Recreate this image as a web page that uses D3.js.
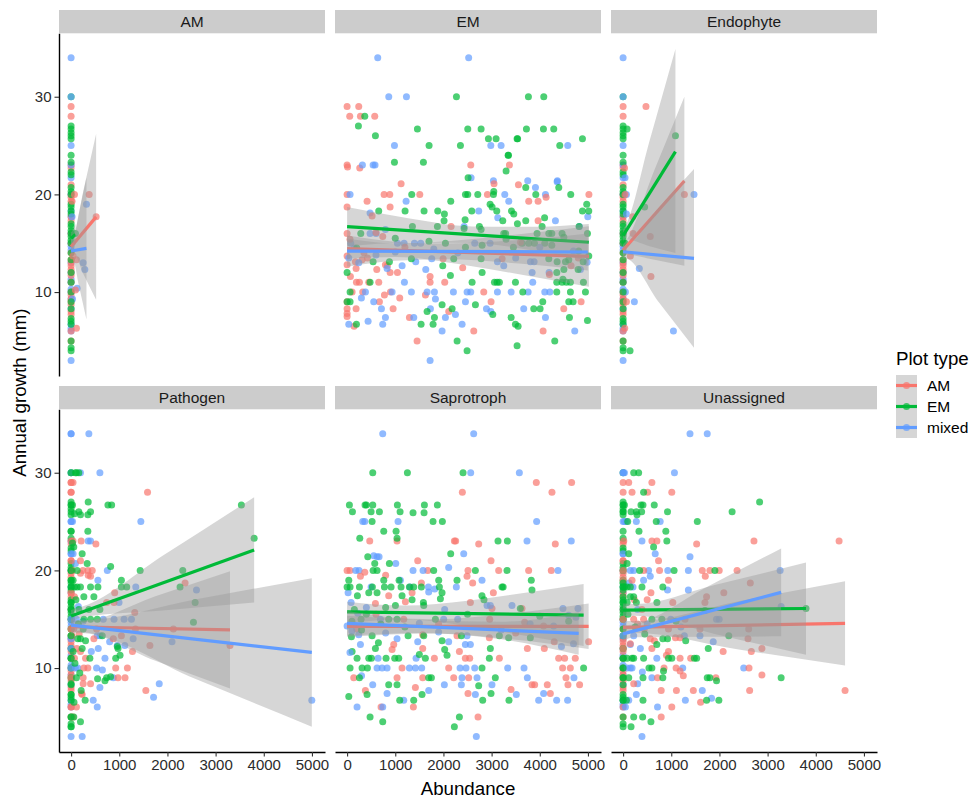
<!DOCTYPE html>
<html><head><meta charset="utf-8">
<script src="https://cdn.jsdelivr.net/npm/d3@7"></script>
<style>body{margin:0;background:#fff} text{font-family:"Liberation Sans",Arial,Helvetica,sans-serif}</style>
</head><body><svg id="chart" width="980" height="808"></svg>
<script>
// ---------- categories / ticks ----------
const facetNames = ["AM","EM","Endophyte","Pathogen","Saprotroph","Unassigned"];
const plotTypes = ["AM","EM","mixed"];
const typeColors = ["#F8766D","#00BA38","#619CFF"];
const xTicks = [0,1000,2000,3000,4000,5000];
const yTicks = [10,20,30];

// ---------- trees with zero abundance (growth, by plot type) ----------
const zeroAM = [29,28,23,22.7,21,20,19.7,19.3,17.7,17.3,16,15,14,13.3,13,12.7,12.3,12,11.7,11,10,9.7,9.3,9,8.7,8,7.7,6,5];
const zeroEM = [30,27,26.7,26.3,26,25.7,24,23.3,22.3,22,20.7,20.3,20,19,18.7,18.3,18,17,16.7,16.3,16,15.7,15.3,15,14,13.3,12,11,10,9,8.3,7.3,7,6.7,5,4.3,4];
const zeroMixed = [34,30,25,23,21.7,20,18.3,17.7,16,15,14.7,14.3,13,12,11.3,11,10.3,10,9.3,8.3,6.7,6.3,6,3];
const zeroMixedUn = [30,25,21.7,20,18.3,17.7,16,15,14.7,14.3,13,12,11.3,11,10.3,10,9.3,8.3,6.7,6.3,6];

// ---------- points [abundance, growth] ----------
const amAM = [[70,20],[375,20],[520,17.7],[111,13.3],[111,6.3],[40,13.7],[90,10.2],[20,19.3]];
const amEM = [[90,16]];
const amMix = [[319,19],[250,13],[285,12.3],[125,10.4],[30,9.3],[20,17.7]];

const emAM = [[0,29],[242,29],[55,28],[277,28],[574,28],[0,23],[10,22.8],[263,22.7],[2567,23],[3370,23],[1121,21.1],[3557,21],[0,20],[768,20],[886,20],[1509,20],[2913,20],[5020,20],[415,19.3],[3771,19.3],[3965,19.3],[4131,19.7],[0,18.7],[893,18.7],[519,17.8],[3965,17.3],[0,16],[740,15.7],[2159,16.7],[0,13.7],[173,13.1],[311,13.3],[422,13.5],[796,12.8],[1993,13.4],[3218,13.4],[0,12.8],[187,12.4],[616,12.3],[837,12.7],[893,12],[1045,12],[1723,11.6],[69,11.6],[194,11],[256,11],[450,11],[657,11],[1723,11],[2027,11],[104,10],[325,10],[900,10],[2837,10],[775,9.7],[671,9],[0,9],[1093,9.4],[1626,9.7],[2989,9],[4858,9],[0,8.3],[0,7.8],[187,8.3],[955,8.3],[2110,8],[4498,8.3],[0,7.5],[1294,7.4],[145,6.5],[2630,6],[4069,6],[1453,5],[3050,21.1],[4650,12.7],[4200,11.8],[4800,13.5],[2400,12.5],[1200,14.6],[3600,15.1],[600,16.1],[350,14],[60,15.4]];
const emEM = [[2270,30],[3764,30],[4083,30],[367,28],[235,27],[1460,26.7],[2505,26.7],[2782,26.7],[3723,26.7],[4076,26.7],[4290,26.7],[588,26],[2934,25.7],[3093,25.7],[3529,25.7],[3540,25.7],[4886,25.7],[1702,25],[2353,25],[4415,25],[3343,24],[3350,24],[983,23.3],[1584,23.3],[3301,22.4],[2512,21.7],[3709,20.7],[4394,20.7],[3045,20.3],[1342,20],[2457,20],[2505,20],[2713,20],[3038,20],[3917,20],[4643,20],[2152,19.3],[4975,19],[657,18.3],[1204,18.3],[1598,18.3],[1882,18.3],[2020,18],[2013,17.3],[2450,17.4],[2588,18.3],[2969,19],[3010,18.7],[3107,18.3],[3232,17.3],[3412,18.3],[3460,18],[3536,17],[3709,17.3],[4886,18.3],[5017,18.3],[284,16],[1356,16.7],[1875,16.7],[2747,16.7],[2782,16.4],[2429,16.5],[3252,16],[3290,16],[3944,16],[4048,16.7],[4187,16],[4250,16],[4463,16],[4816,16.7],[4990,16],[2041,15],[2457,14.6],[2803,14.8],[3453,14.6],[3633,15],[3771,15],[3890,15],[4104,15],[4250,14.8],[4809,14.2],[540,13.1],[879,13.1],[1335,13.4],[2214,13.4],[2782,13.4],[4187,13.4],[4360,13.1],[4533,13.1],[4602,13.3],[4796,12.3],[4900,13.1],[5017,13.7],[1986,12.7],[4353,12],[4500,12.3],[0,12],[2145,11.7],[2803,12],[477,11],[2595,11],[3059,11],[3114,11],[3162,11],[3495,11],[4353,11],[4463,11],[4553,11],[4636,11],[4906,11],[4480,11.3],[62,10],[3647,10],[4353,10],[4636,10],[4948,10],[0,9],[62,9],[2664,8.7],[4062,9],[4602,9],[4692,9],[1972,8.7],[2180,8.3],[1661,8],[3024,7.7],[3875,8.3],[4007,8.3],[1813,7.4],[1536,6.7],[1785,6.7],[194,6.7],[3405,7.4],[3495,6.7],[3550,6.5],[4616,7.4],[4990,7.1],[2284,5],[3529,4.5],[4311,5],[2491,4],[1000,15.5],[200,14.5],[1700,15.2],[3300,15.4],[4500,15.6],[4100,17.6]];
const emMix = [[636,34],[2524,34],[865,30],[1232,30],[983,25],[2983,25],[3197,25],[4581,25],[318,23],[540,23],[580,23],[2574,21.7],[3038,21.4],[3750,21.4],[4366,21.4],[4360,21.3],[3910,20.7],[62,20],[3273,20],[4118,20],[1225,19.3],[3356,19.3],[477,18.1],[2733,18.3],[3128,17.6],[4325,17.3],[4997,17.7],[477,16],[602,16],[796,16.4],[2429,16.7],[4823,16.7],[76,15],[1045,15],[1183,15],[1398,15],[1529,15],[2650,15],[2969,15],[35,13.5],[242,13],[830,12.4],[1425,13.1],[1757,13.4],[3121,13.1],[3252,12.7],[3806,13.1],[3882,13.1],[4844,12.3],[4983,13.05],[1142,12.7],[1633,12.3],[3841,12],[4194,12],[1190,11],[3854,11],[381,10],[934,10],[1335,10],[1661,10],[1813,10],[2207,10],[2491,10],[2567,10],[3121,10],[3405,10],[3758,10],[4104,10],[4208,10],[297,9.4],[553,9],[1834,9.3],[2457,9],[713,8.3],[1730,8.3],[2249,7.7],[2893,8.3],[2983,8],[3667,8.3],[1384,7.4],[2041,7.4],[2387,6.7],[35,6.7],[436,7],[740,6.7],[796,7.4],[4118,7.4],[1972,6],[4726,6],[1723,3],[150,14.5],[1800,14.4],[2300,14],[4000,14.6],[4700,14.2],[600,13.8],[3500,13.5],[1000,14.1]];

const endoAM = [[475,29],[1272,20],[200,17.7],[206,16],[564,15.7],[151,13.7],[578,11.6],[69,9],[34,6.3],[40,20],[30,22.7]];
const endoEM = [[83,26.7],[1087,26],[447,18.7],[144,4],[40,15]];
const endoMix = [[1472,20],[337,12.4],[48,10],[234,9],[1045,6],[69,20],[69,18],[40,21.7]];

const pathAM = [[0,29],[40,29],[0,28],[1587,28],[0,23],[40,23],[209,23],[515,22.7],[0,21],[195,21],[28,20],[244,20],[348,20],[439,20],[195,19.7],[404,19.4],[355,19.5],[2366,18.7],[0,17.7],[905,17.7],[70,17.3],[738,16.7],[891,16.7],[1322,15.7],[0,14],[56,14],[529,14],[1336,14],[2123,14],[1044,13.3],[167,13.5],[473,13],[877,13],[1636,12.3],[3299,12.3],[1274,11.7],[195,11.7],[70,11],[265,10],[348,10],[926,10],[1169,10],[0,9],[251,9],[974,9],[1120,9],[251,8.4],[404,8.4],[1552,7.7],[230,7.3],[216,7.4],[0,6],[111,6],[40,5],[20,13.3],[120,12],[300,11]];
const pathEM = [[0,30],[90,30],[111,30],[160,30],[0,26.7],[30,26.7],[765,26.7],[842,26.7],[3535,26.7],[355,27],[70,25.8],[160,26],[195,25.7],[348,25.7],[404,26],[0,24],[348,24],[3800,23.3],[56,22.4],[30,22.8],[230,21.7],[334,20.7],[821,20.4],[0,20],[125,20],[1434,20],[2318,20],[0,19],[42,19],[1044,19],[0,18.3],[70,18.3],[125,18.3],[195,18.3],[404,18.3],[557,18.3],[1044,18.3],[1155,18.3],[2262,18.3],[473,17.3],[265,17.3],[0,16.7],[2575,16.7],[0,16],[160,16],[369,16],[598,16],[265,15],[404,15],[543,15],[2540,14.7],[251,14],[0,13.3],[647,13.3],[139,13],[195,13],[230,12],[974,12],[960,12.2],[42,11.7],[0,11],[390,11],[926,11],[1016,11.3],[111,9],[738,9],[703,8.7],[820,9.1],[0,8.4],[209,7.7],[0,7.3],[292,6.7],[0,5],[56,5],[195,4.5],[0,4],[100,17],[150,14.5],[300,12.8],[80,10.5],[180,9.5],[60,6.5],[550,8.9]];
const pathMix = [[0,34],[369,34],[195,30],[598,30],[0,25],[30,25],[1448,25],[355,23],[404,23],[0,21.7],[42,21.7],[90,20.7],[752,20],[557,19],[1343,18.3],[2603,18],[995,16.7],[0,15],[111,15],[668,15],[891,15],[1100,15],[1253,15],[543,13.3],[0,13],[1288,13],[800,12.7],[960,12.3],[1114,12.3],[2095,12.7],[0,12],[564,12],[703,11],[0,10],[90,10],[139,10],[529,10],[877,9],[1830,8.4],[598,8],[1712,7],[459,6.7],[4997,6.7],[543,6],[230,3],[150,16.3],[250,14.8],[600,13.3],[420,11.7],[650,9.8]];

const sapAM = [[3928,29],[4661,29],[2393,28],[4253,28],[470,23],[1037,23],[2227,23],[2254,23],[2732,22.7],[4322,22.7],[1466,21],[2988,21],[0,20],[60,20],[1674,20],[2510,20],[3147,20],[3769,20],[4239,20],[277,19.4],[2490,19.4],[367,19.8],[800,19.5],[1542,18.7],[2607,18.7],[3036,17.7],[1349,17.7],[864,17.4],[1210,16.8],[2559,16.7],[588,16.6],[3008,16.1],[3631,16.1],[1176,15],[2960,15],[600,15.5],[3686,14.7],[4080,14.3],[200,14],[1900,14.5],[1570,13.4],[2282,13.3],[2953,13.1],[3500,13.6],[5014,12.7],[4300,12.7],[968,12.4],[934,11.9],[1570,12],[2331,11.7],[3742,12],[4094,12],[1812,11],[2455,11],[2545,11],[3161,11],[4392,11],[4516,11],[4737,11],[1141,10],[2109,10],[4474,10],[4634,10],[138,9],[1037,9],[1570,9],[2213,9],[2524,9],[4544,9],[1418,8],[3403,7.8],[3838,8.3],[3894,8.3],[4156,8.3],[4585,8.3],[4827,8.3],[380,7.7],[2510,7.4],[4219,7.4],[705,6],[1376,6],[2718,5]];
const sapEM = [[533,30],[1252,30],[2407,30],[48,26.7],[373,26.7],[401,26.7],[533,26.7],[1605,26.7],[1874,26.7],[1044,26.7],[111,26],[498,26],[671,26],[1100,26],[1369,25.9],[1598,25.9],[519,25],[1784,25],[1978,25],[761,24],[1017,24],[263,23.3],[1037,23.3],[3133,23],[3327,23],[2151,21.7],[429,21.4],[878,20.7],[574,20.7],[540,20],[622,20],[1798,20],[2663,20],[3320,20],[35,19],[761,19],[1079,19],[1902,19],[3824,19],[2282,19],[0,18.3],[62,18.3],[256,18.3],[525,18.3],[775,18.3],[913,18.3],[1120,18.3],[1293,18.3],[1383,18.3],[1542,18.3],[1916,18.3],[3216,18.3],[3240,18.3],[3838,18],[214,17.4],[450,17.7],[622,17.7],[1141,17.4],[1349,17],[1584,16.7],[1937,17.1],[1971,17.7],[2842,17],[2800,17.4],[1003,16.4],[1591,16.4],[3596,16.1],[290,15],[864,15],[1037,15],[1833,15],[90,13.2],[519,13.3],[1266,13.3],[1591,13.3],[1971,12.8],[2372,13.3],[3161,13.3],[3354,13.1],[3804,13.1],[104,11.7],[588,12],[2026,11.9],[2075,11.3],[2974,12],[207,11],[450,11],[505,11],[809,11],[989,11],[1072,11],[1625,11],[2953,11],[62,10],[311,10],[422,10],[2801,10],[4910,10],[256,9],[1694,9],[1750,9],[3077,9],[864,8.3],[1037,8.3],[2732,8.2],[35,7.1],[415,7.3],[1556,7.3],[2988,7.4],[1093,6.7],[1383,6.7],[2815,6.7],[3361,6.7],[477,5],[2331,5],[740,4.5],[2227,4],[150,16],[400,15.5],[700,14.5],[1200,14.2],[300,13.9],[800,16.2],[2500,15.5],[4000,15.3],[4600,14.8],[100,14.8],[650,12.6],[1500,11.4]];
const sapMix = [[740,34],[2628,34],[2566,30],[3576,30],[325,25],[367,25],[1058,25],[3935,25],[3735,23],[4654,23],[2421,21.7],[553,21.5],[622,21.4],[664,21.4],[1010,20.7],[2109,20.3],[180,20],[249,20],[1369,20],[1577,20],[4378,20],[1107,19],[2801,19],[1694,17.8],[498,18.3],[1307,18.3],[1688,18.3],[1819,18.1],[2268,18.3],[21,17.7],[2905,16.4],[83,16.7],[221,15.6],[2026,16],[2974,16.4],[3423,16.4],[4481,16.1],[4793,16.1],[692,15],[2005,15],[2296,15],[4288,14.3],[0,14.3],[242,13.4],[1037,13],[2109,12.7],[2490,13.3],[277,12.4],[1466,12.7],[2455,12.4],[2559,12.4],[643,11],[1432,11],[622,10],[726,10],[830,10],[1293,10],[1418,10],[1549,10],[2345,10],[2469,10],[2649,10],[3334,10],[3673,10],[2386,9],[2697,9],[3742,9],[4710,9],[532,8.3],[2019,8.3],[2372,8.3],[3008,8.3],[830,7.4],[1694,7.7],[2663,7.3],[3513,7.3],[4080,7.4],[207,6],[1176,6.7],[3977,6.7],[4350,6.7],[4578,6.7],[740,6],[2683,3],[4600,15.4],[4750,15.2],[3800,14.5],[1500,14.6],[100,13.8],[400,16.2],[800,13.6],[1900,13.7],[3200,13.9],[4450,12.2],[4700,12.5],[60,11.6],[300,9.2]];

const unAM = [[117,29],[598,29],[186,28],[509,28],[1011,28],[14,23],[598,23],[702,23],[1527,22.7],[2717,23],[4484,23],[0,21],[736,21],[0,20],[426,20],[757,20],[1644,20],[1802,20],[1995,20],[2366,20],[1706,19.4],[0,19],[942,19],[186,19],[2641,18.7],[578,17.7],[2091,17.7],[234,17],[500,17],[1733,17.3],[1032,16.7],[1699,16.7],[392,16],[0,15],[220,15],[426,15],[1286,15],[300,14.5],[440,14],[942,14],[1596,14],[2607,14],[1087,13.1],[1183,13.1],[564,13],[650,12.8],[2593,13],[150,12.5],[0,12],[598,12],[2882,12],[2077,11.7],[2662,11.7],[942,11.7],[900,11.3],[1183,11],[1403,11],[1100,10],[850,10],[2614,10],[1183,9.7],[2882,9.3],[1250,9.2],[715,9],[1926,9],[220,8.4],[791,7.7],[1107,7.7],[1458,7.7],[2627,7.7],[4608,7.7],[1609,6.5],[1011,6],[791,5]];
const unEM = [[220,30],[323,30],[426,28],[2834,27],[0,26.7],[28,26.7],[371,26.7],[413,26.7],[647,26.7],[0,26],[165,26],[275,26],[385,26],[922,26],[2263,26],[289,25.7],[96,25],[688,25],[1541,25],[330,24],[887,24],[908,23],[633,22.4],[117,21.7],[83,20.7],[344,20],[1059,20],[1905,20],[0,18.7],[0,18.3],[28,18.3],[83,18.3],[151,18.3],[392,18.3],[825,18.3],[0,17.3],[151,17.3],[220,17.3],[0,16.7],[83,16.7],[275,16.7],[702,16.7],[1700,15.9],[3797,16.1],[100,15.5],[598,15],[805,15],[1100,14.8],[250,14.2],[450,13.5],[2194,13.3],[825,13],[922,13],[1300,12.8],[700,12.4],[1768,12],[0,11],[83,11],[186,11],[220,11],[426,11],[942,11],[1011,11],[1479,11],[1527,11],[0,10],[537,10],[598,10],[839,9.7],[0,9],[117,9],[413,9],[825,9],[1747,9],[1802,9],[3281,9],[1940,8.7],[0,6.7],[69,6.7],[413,6.7],[1733,6.7],[1988,6.7],[220,5],[406,5],[578,4.5],[165,4]];
const unMix = [[1389,34],[1747,34],[0,30],[28,30],[1066,30],[28,25],[69,25],[275,25],[770,25],[392,23],[667,21.7],[0,21.7],[1389,21.4],[151,20],[220,20],[530,20],[928,20],[1355,20],[3260,20],[564,19.4],[426,19],[124,18.7],[206,18.3],[922,18],[1355,18],[3281,16.3],[300,16],[990,15],[1939,15],[1995,15],[500,14.5],[1200,14.2],[0,13.3],[220,13.3],[1596,13.3],[1272,13.3],[1871,12.7],[150,12.4],[358,12],[700,11],[83,10],[151,10],[186,10],[1238,10],[2504,10],[400,9.6],[598,9],[303,8.4],[1644,7.7],[275,7.3],[117,6.7],[1293,6.7],[1836,6.9],[48,6],[715,6],[392,3]];

// ---------- fitted lines [x0, y0, x1, y1] per plot type (AM, EM, mixed) ----------
const fitAMf   = [[0,14.64,520,17.7],[0,15.5,90,15.9],[0,14.2,319,14.47]];
const fitEMf   = [[0,14.45,5020,13.65],[0,16.7,5017,15.1],[0,14.2,4997,14.1]];
const fitEndo  = [[0,14.3,1272,21.37],[0,15.77,1087,24.37],[0,14.13,1472,13.45]];
const fitPath  = [[0,14.23,3299,13.9],[0,15.33,3800,22.08],[0,14.4,4997,11.6]];
const fitSap   = [[0,14.27,5014,14.27],[0,15.75,4910,15.43],[0,14.58,4807,13.55]];
const fitUn    = [[0,14.17,4608,14.58],[0,15.94,3797,16.1],[0,13.5,3281,17.75]];

// ---------- confidence bands [x, lower, upper] ----------
const bandAMf_AM  = [[0,13.95,15.35],[30,14.15,15.5],[260,11.8,20.5],[520,9.2,26.2]];
const bandAMf_EM  = [[0,14.9,16.1],[45,15.0,16.4],[90,14.8,17.0]];
const bandAMf_Mix = [[0,13.5,14.9],[25,13.6,14.9],[160,10.7,18.0],[319,7.2,21.7]];
const bandEMf_AM  = [[0,13.42,15.48],[1000,13.59,14.99],[2500,12.72,15.38],[3800,11.62,16.06],[5020,10.55,16.75]];
const bandEMf_EM  = [[0,14.7,18.7],[1300,15.05,17.53],[2600,15.02,16.72],[3800,14.3,16.68],[5017,13.22,16.98]];
const bandEMf_Mix = [[0,12.6,15.8],[1000,13.2,15.16],[2000,13.36,14.96],[3500,12.95,15.31],[4997,12.2,16.0]];
const bandEndo_AM  = [[0,13.7,14.9],[30,13.85,15.05],[650,13.3,22.5],[1272,12.7,30.0]];
const bandEndo_EM  = [[0,15.15,16.4],[30,15.4,16.6],[550,14.7,25.5],[1087,14.0,34.9]];
const bandEndo_Mix = [[0,13.45,14.8],[30,13.45,14.75],[750,8.9,18.7],[1472,4.3,22.6]];
const bandPath_AM  = [[0,13.55,14.9],[200,13.6,14.8],[1750,10.75,17.35],[3299,7.9,19.9]];
const bandPath_EM  = [[0,14.75,15.95],[250,15.22,16.32],[1900,15.9,21.5],[3800,16.7,27.5]];
const bandPath_Mix = [[0,13.75,15.05],[200,13.7,14.9],[2600,8.85,17.05],[4997,4.0,19.2]];
const bandSap_AM   = [[0,13.2,15.35],[1800,13.55,15.0],[3400,12.95,15.6],[5014,11.95,16.6]];
const bandSap_EM   = [[0,14.6,16.8],[1200,15.0,16.4],[2500,14.3,16.9],[3700,13.3,17.7],[4910,12.25,18.6]];
const bandSap_Mix  = [[0,13.3,15.85],[1500,13.6,14.95],[3200,12.95,14.75],[4807,11.35,15.75]];
const bandUn_AM    = [[0,13.5,14.85],[250,13.6,14.8],[2400,11.9,16.85],[4608,10.25,18.9]];
const bandUn_EM    = [[0,15.3,16.6],[250,15.35,16.55],[1900,13.5,18.5],[3797,11.35,20.8]];
const bandUn_Mix   = [[0,12.8,14.3],[250,13.15,14.5],[1700,13.2,18.2],[3281,13.25,22.25]];

// ---------- tables built from the arrays ----------
const facetPoints = [[amAM,amEM,amMix],[emAM,emEM,emMix],[endoAM,endoEM,endoMix],[pathAM,pathEM,pathMix],[sapAM,sapEM,sapMix],[unAM,unEM,unMix]];
const facetZeroStacks = [[zeroAM,zeroEM,zeroMixed],null,[zeroAM,zeroEM,zeroMixed],[zeroAM,zeroEM,zeroMixed],null,[zeroAM,zeroEM,zeroMixedUn]];
const facetFits = [fitAMf,fitEMf,fitEndo,fitPath,fitSap,fitUn];
const facetBands = [[bandAMf_AM,bandAMf_EM,bandAMf_Mix],[bandEMf_AM,bandEMf_EM,bandEMf_Mix],[bandEndo_AM,bandEndo_EM,bandEndo_Mix],[bandPath_AM,bandPath_EM,bandPath_Mix],[bandSap_AM,bandSap_EM,bandSap_Mix],[bandUn_AM,bandUn_EM,bandUn_Mix]];

// ---------- layout ----------
const colLeft = [59,335,611], panelW = 266;
const stripTop = [10,386], stripH = 23.3, panelH = 342.7;
const panelTop = stripTop.map(t=>t+stripH);
const ptR = 3.5, lineW = 3.2;

// domains (data range + 5% expansion, like ggplot)
let allX=[], allY=[];
facetPoints.forEach((fp,fi)=>{
  fp.forEach(arr=>arr.forEach(p=>{allX.push(p[0]);allY.push(p[1]);}));
  if(facetZeroStacks[fi]){ allX.push(0); facetZeroStacks[fi].forEach(z=>z.forEach(v=>allY.push(v))); }
});
facetBands.forEach(fb=>fb.forEach(b=>b.forEach(p=>{allY.push(p[1]);allY.push(p[2]);})));
const [xmn,xmx]=d3.extent(allX), [ymn,ymx]=d3.extent(allY);
const xs=xmx-xmn, ysp=ymx-ymn;
const x = d3.scaleLinear().domain([xmn-0.05*xs, xmx+0.05*xs]).range([0,panelW]);
const y = d3.scaleLinear().domain([ymn-0.05*ysp, ymx+0.05*ysp]).range([panelH,0]);

const svg = d3.select("#chart");
const area = d3.area().x(d=>x(d[0])).y0(d=>y(d[1])).y1(d=>y(d[2])).curve(d3.curveMonotoneX);
const line = d3.line().x(d=>x(d[0])).y(d=>y(d[1]));

function styleAxis(ax){
  ax.select(".domain").attr("stroke","#000").attr("stroke-width",1.4);
  ax.selectAll(".tick line").attr("stroke","#333").attr("stroke-width",1.1);
  ax.selectAll(".tick text").attr("fill","#2b2b2b").style("font-size","15px").style("font-family",'"Liberation Sans",Arial,sans-serif');
}

facetNames.forEach((name,fi)=>{
  const r=Math.floor(fi/3), c=fi%3;
  const g = svg.append("g").attr("transform",`translate(${colLeft[c]},${panelTop[r]})`);
  g.append("rect").attr("x",0).attr("y",-stripH).attr("width",panelW).attr("height",stripH).attr("fill","#cccccc");
  g.append("text").attr("x",panelW/2).attr("y",-stripH/2).attr("dy","0.36em").attr("text-anchor","middle")
    .style("font-size","15.5px").attr("fill","#1a1a1a").text(name);
  const cid="clip"+fi;
  g.append("clipPath").attr("id",cid).append("rect").attr("width",panelW).attr("height",panelH);
  const pg = g.append("g").attr("clip-path",`url(#${cid})`);

  // points, interleaved by plot type
  const lists = plotTypes.map((t,ti)=>{
    const base = facetZeroStacks[fi] ? facetZeroStacks[fi][ti].map(v=>[0,v]) : [];
    return base.concat(facetPoints[fi][ti]).map(p=>({x:p[0],y:p[1],t:ti}));
  });
  const pts=[]; const n=d3.max(lists,l=>l.length);
  for(let i=0;i<n;i++) lists.forEach(l=>{ if(i<l.length) pts.push(l[i]); });
  pg.selectAll("circle").data(pts).join("circle")
    .attr("cx",d=>x(d.x)).attr("cy",d=>y(d.y)).attr("r",ptR)
    .attr("fill",d=>typeColors[d.t]).attr("fill-opacity",0.7);

  // smooths: ribbon then line per group
  plotTypes.forEach((t,ti)=>{
    pg.append("path").attr("d",area(facetBands[fi][ti])).attr("fill","#999999").attr("fill-opacity",0.4);
    const f=facetFits[fi][ti];
    pg.append("path").attr("d",line([[f[0],f[1]],[f[2],f[3]]])).attr("fill","none")
      .attr("stroke",typeColors[ti]).attr("stroke-width",lineW);
  });

  if(c===0){
    const ax=g.append("g").call(d3.axisLeft(y).tickValues(yTicks).tickSize(4.5).tickSizeOuter(0).tickPadding(3));
    styleAxis(ax);
  }
  if(r===1){
    const ax=g.append("g").attr("transform",`translate(0,${panelH})`)
      .call(d3.axisBottom(x).tickValues(xTicks).tickFormat(d3.format("d")).tickSize(4.5).tickSizeOuter(0).tickPadding(3));
    styleAxis(ax);
  }
});

// axis titles
svg.append("text").attr("transform",`translate(19,${(panelTop[0]+panelTop[1]+panelH)/2}) rotate(-90)`)
  .attr("text-anchor","middle").attr("dy","0.35em").style("font-size","18.7px").attr("fill","#000").text("Annual growth (mm)");
svg.append("text").attr("x",(colLeft[0]+colLeft[2]+panelW)/2).attr("y",795)
  .attr("text-anchor","middle").style("font-size","18.7px").attr("fill","#000").text("Abundance");

// legend
const lg = svg.append("g").attr("transform","translate(896,0)");
lg.append("text").attr("x",0).attr("y",365).style("font-size","18.7px").attr("fill","#000").text("Plot type");
plotTypes.forEach((t,ti)=>{
  const ky=375+ti*21;
  lg.append("rect").attr("x",0).attr("y",ky).attr("width",21).attr("height",21).attr("fill","#999999").attr("fill-opacity",0.4);
  lg.append("circle").attr("cx",10.5).attr("cy",ky+10.5).attr("r",ptR).attr("fill",typeColors[ti]).attr("fill-opacity",0.7);
  lg.append("line").attr("x1",0).attr("x2",21).attr("y1",ky+10.5).attr("y2",ky+10.5).attr("stroke",typeColors[ti]).attr("stroke-width",lineW);
  lg.append("text").attr("x",31).attr("y",ky+10.5).attr("dy","0.36em").style("font-size","15.5px").attr("fill","#000").text(t);
});
</script></body></html>
